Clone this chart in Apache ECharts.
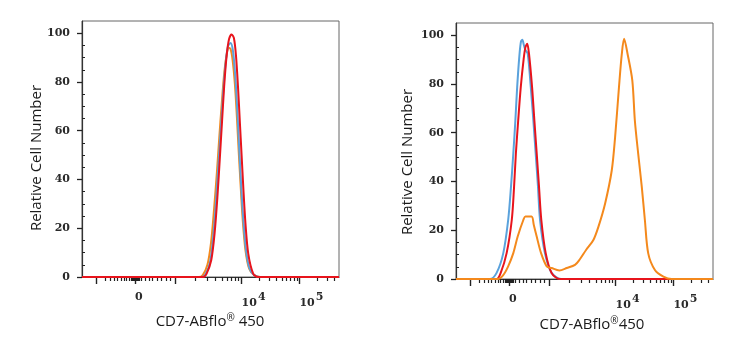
<!DOCTYPE html>
<html><head><meta charset="utf-8">
<script src="https://cdn.jsdelivr.net/npm/echarts@6/dist/echarts.min.js"></script>
<style>html,body{margin:0;padding:0;background:#fff}#c{width:739px;height:350px}</style>
</head><body><div id="c"></div>
<script>
// x values are display channels (0-1000) on the biexponential (logicle) axis; y = relative cell number
const leftOrange = [[0,0],[455,0],[470,0.8],[488,5],[502,14],[514,28],[525,43],[534,57],[543,70],[552,82],[561,90],[571,94],[578,93.5],[586,89],[595,79],[603,65],[610,51],[617,38],[625,24],[636,11],[650,3.5],[670,0.8],[695,0],[1000,0]];
const leftBlue = [[0,0],[465,0],[480,1],[498,6],[511,17],[522,32],[532,48],[541,62],[549,75],[558,87],[568,94.5],[578,96],[587,93],[596,83],[604,69],[611,54],[618,40],[626,26],[637,12],[650,4],[667,1],[690,0],[1000,0]];
const leftRed = [[0,0],[471,0],[485,1.4],[503,7],[516,18],[527,33],[537,50],[545,64],[553,78],[562,90],[572,97.5],[582,99.5],[591,98],[599,91],[607,78],[614,64],[621,50],[628,36],[636,22],[647,9.5],[666,1.4],[685,0],[1000,0]];

const rightBlue = [[0,0],[132,0],[158,2.5],[184,10.6],[203,24.2],[214,37.9],[223,51.5],[231,65],[238,78.7],[247,92],[253,97.5],[258,98.1],[264,96],[270,94],[279,92.4],[291,78.7],[301,65],[310,51.5],[319,37.9],[327,24.2],[346,10.6],[372,2.5],[411,0],[1000,0]];
const rightRed = [[0,0],[158,0],[174,2.5],[197,10.6],[217,24.2],[226,37.9],[233,51.5],[242,65],[252,78.7],[263,90],[270,95],[277,96.5],[284,92.4],[296,78.7],[305,65],[314,51.5],[323,37.9],[332,24.2],[349,10.6],[372,2.5],[405,0],[1000,0]];
const rightOrange = [[0,0],[163,0],[183,1.5],[203,5.2],[223,10.6],[240,17.4],[262,24.2],[270,25.6],[294,25.6],[303,22],[314,17.4],[331,10.6],[353,5.2],[372,4.5],[402,3.5],[431,4.5],[463,5.8],[482,8.1],[506,11.9],[534,15.9],[554,21.4],[580,30.9],[606,44.5],[619,58.1],[634,78.5],[645,92.1],[654,98.5],[668,92.1],[686,81.5],[696,64.9],[709,51.3],[723,37.7],[735,24.1],[748,10.5],[774,3.7],[807,1],[839,0],[1000,0]];

// x axis ticks (channel positions) and labels
const xMajorTicks = [57, 206, 364, 621, 846];
const xMinorTicks = [89,109,126,139,152,163,174,184,191,194,197,200,203,209,212,215,218,221,232,248,261,274,291,307,326,345,
  441,487,519,544,564,581,596,609, 689,728,757,778,796,811,824,836, 914,953,982];
const xLabelValues = [206, 621, 846];
const xTickLabels = ['0', '10^4', '10^5'];
// y axis
const yTickValues = [0,20,40,60,80,100];
const yMinorValues = [5,10,15,25,30,35,45,50,55,65,70,75,85,90,95];
const yTitle = 'Relative Cell Number';
const xTitle = ['CD7-ABflo', '®', ' 450'];
const xTitleRight = ['CD7-ABflo', '®', '450'];

const colors = {blue:'#5aa2dc', red:'#e8141c', orange:'#f4891c'};

const chart = echarts.init(document.getElementById('c'));
const grids = [
  {left:82, top:21, width:257, height:256},
  {left:456, top:23, width:257, height:256}
];
function fmtX(v){
  const i = xLabelValues.indexOf(v);
  if (i < 0) return '';
  const t = xTickLabels[i];
  if (t.indexOf('^') >= 0) { const p = t.split('^'); return '{m|' + p[0] + '}{s|' + p[1] + '}'; }
  return '{m|' + t + '}';
}
const labelFont = {fontFamily:'DejaVu Serif', fontSize:11, fontWeight:'bold', color:'#2a2a2a'};
const xAxes = [], yAxes = [];
grids.forEach((g, gi) => {
  xAxes.push({gridIndex:gi, type:'value', min:0, max:1000, position:'bottom',
    axisLine:{show:true, onZero:false, lineStyle:{color:'#333', width:1.2}},
    axisTick:{show:true, customValues:xMajorTicks, length:7, lineStyle:{color:'#222', width:1.4}},
    axisLabel:{show:true, customValues:xLabelValues, align:'left', margin:15, formatter:fmtX,
      rich:{m:{...labelFont}, s:{...labelFont, padding:[0,0,12,1]}}},
    splitLine:{show:false}});
  xAxes.push({gridIndex:gi, type:'value', min:0, max:1000, position:'bottom',
    axisLine:{show:false}, axisLabel:{show:false}, splitLine:{show:false},
    axisTick:{show:true, customValues:xMinorTicks, length:4, lineStyle:{color:'#222', width:1.2}}});
  yAxes.push({gridIndex:gi, type:'value', min:0, max:105,
    axisLine:{show:true, lineStyle:{color:'#333', width:1.2}},
    axisTick:{show:true, customValues:yTickValues, length:5, lineStyle:{color:'#222', width:1.3}},
    axisLabel:{show:true, customValues:yTickValues, margin:12, ...labelFont},
    splitLine:{show:false}});
  yAxes.push({gridIndex:gi, type:'value', min:0, max:105,
    axisLine:{show:false}, axisLabel:{show:false}, splitLine:{show:false},
    axisTick:{show:true, customValues:yMinorValues, length:3, lineStyle:{color:'#222', width:1}}});
});

function line(data, color, xi, yi, z){
  return {type:'line', data, xAxisIndex:xi, yAxisIndex:yi, symbol:'none', clip:false,
    smooth:0.3, z, lineStyle:{color, width:2}, emphasis:{disabled:true}};
}

const titleFont = {fontFamily:'Open Sans', fontSize:15, fill:'#1a1a1a'};
function xTitleText(parts, cx, cy){
  return {type:'text', x:cx, y:cy, style:{
    text:'{a|' + parts[0] + '}{r|' + parts[1] + '}{a|' + parts[2] + '}',
    rich:{a:{fontFamily:'Open Sans', fontSize:15, fill:'#1a1a1a', color:'#1a1a1a'},
          r:{fontFamily:'Open Sans', fontSize:10, fill:'#1a1a1a', color:'#1a1a1a', padding:[0,0,8,0]}},
    align:'center', verticalAlign:'middle'}};
}

chart.setOption({
  animation:false,
  backgroundColor:'#fff',
  grid: grids.map(g => ({...g, show:true, borderColor:'#666', borderWidth:1, backgroundColor:'transparent'})),
  xAxis: xAxes,
  yAxis: yAxes,
  series: [
    line(leftOrange, colors.orange, 0, 0, 2),
    line(leftBlue, colors.blue, 0, 0, 3),
    line(leftRed, colors.red, 0, 0, 4),
    line(rightBlue, colors.blue, 2, 2, 2),
    line(rightRed, colors.red, 2, 2, 3),
    line(rightOrange, colors.orange, 2, 2, 4)
  ],
  graphic: [
    {type:'text', x:37, y:158, rotation:Math.PI/2, style:{text:yTitle, ...titleFont, align:'center', verticalAlign:'middle'}},
    {type:'text', x:408, y:162, rotation:Math.PI/2, style:{text:yTitle, ...titleFont, align:'center', verticalAlign:'middle'}},
    xTitleText(xTitle, 210, 322),
    xTitleText(xTitleRight, 592, 325)
  ]
});
</script></body></html>
